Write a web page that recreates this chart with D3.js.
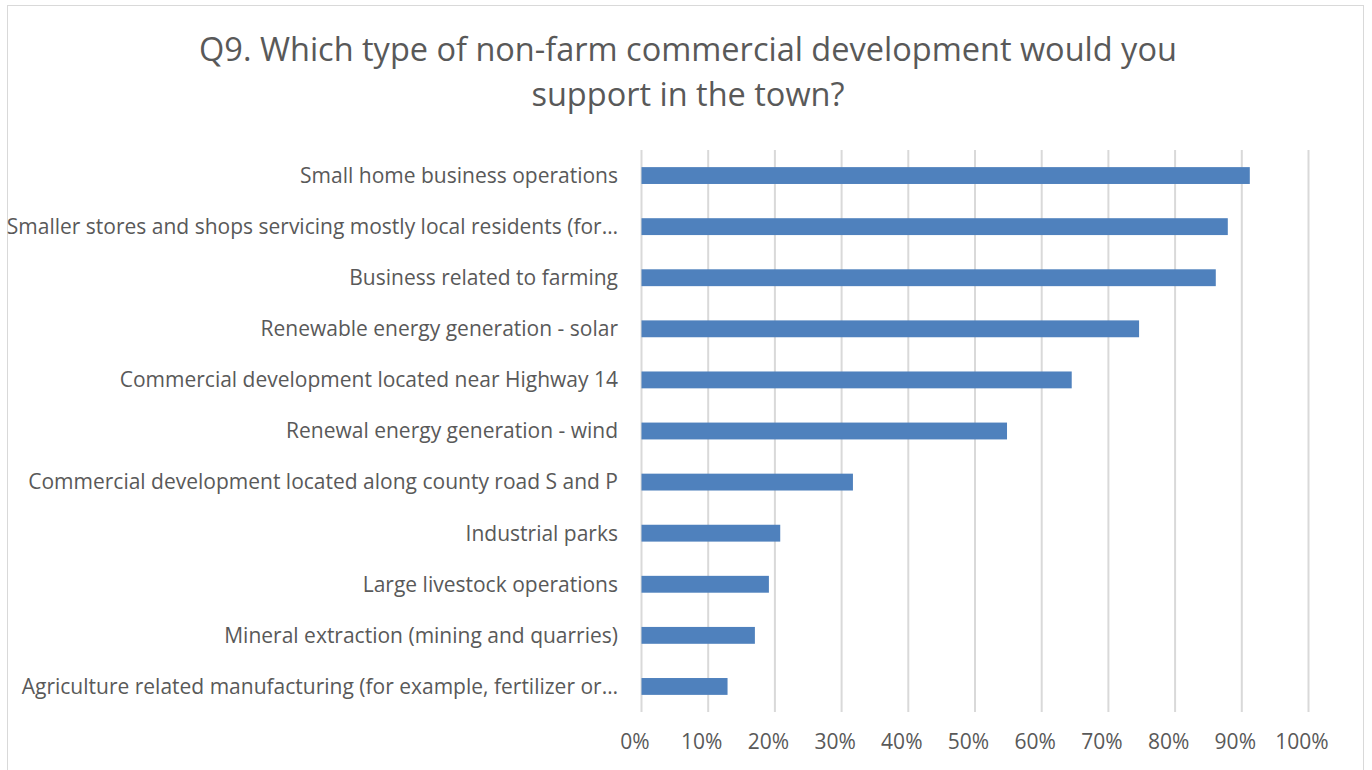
<!DOCTYPE html>
<html>
<head>
<meta charset="utf-8">
<script src="https://cdn.jsdelivr.net/npm/d3@7"></script>
<style>
  body { margin: 0; background: #fff; }
  text { font-family: "Open Sans", "Noto Sans", sans-serif; fill: #595959; }
</style>
</head>
<body>
<div id="chart"></div>
<script>
var categories = [
  "Small home business operations",
  "Smaller stores and shops servicing mostly local residents (for…",
  "Business related to farming",
  "Renewable energy generation - solar",
  "Commercial development located near Highway 14",
  "Renewal energy generation - wind",
  "Commercial development located along county road S and P",
  "Industrial parks",
  "Large livestock operations",
  "Mineral extraction (mining and quarries)",
  "Agriculture related manufacturing (for example, fertilizer or…"
];
var values = [0.912, 0.879, 0.861, 0.746, 0.645, 0.548, 0.317, 0.208, 0.191, 0.170, 0.129];
var tickValues = [0, 0.1, 0.2, 0.3, 0.4, 0.5, 0.6, 0.7, 0.8, 0.9, 1.0];
var titleLines = ["Q9. Which type of non-farm commercial development would you", "support in the town?"];

var width = 1372;
var height = 770;

var svg = d3.select("#chart")
  .append("svg")
  .attr("width", width)
  .attr("height", height);

//chart border
svg.append("rect")
  .attr("x", 7.5).attr("y", 5.5)
  .attr("width", 1356).attr("height", 770)
  .attr("fill", "#fff")
  .attr("stroke", "#d9d9d9");

//title
svg.append("g").selectAll("text")
  .data(titleLines)
  .enter().append("text")
  .attr("x", 688)
  .attr("y", function(d, i) { return 61 + i * 45; })
  .attr("text-anchor", "middle")
  .style("font-size", "32.5px")
  .text(function(d) { return d; });

var x = d3.scaleLinear().domain([0, 1]).range([641.5, 1308.5]);
var y = d3.scaleBand().domain(categories).range([150, 712]).paddingInner(0.67).paddingOuter(0.335);

//gridlines
svg.append("g").selectAll("line")
  .data(tickValues)
  .enter().append("line")
  .attr("x1", function(d) { return x(d); })
  .attr("x2", function(d) { return x(d); })
  .attr("y1", 150).attr("y2", 712)
  .attr("stroke", "#d9d9d9")
  .attr("stroke-width", 2);

//bars
svg.append("g").selectAll("rect")
  .data(values)
  .enter().append("rect")
  .attr("x", x(0))
  .attr("y", function(d, i) { return y(categories[i]); })
  .attr("width", function(d) { return x(d) - x(0); })
  .attr("height", y.bandwidth())
  .attr("fill", "#4f81bd");

//category labels
svg.append("g").selectAll("text")
  .data(categories)
  .enter().append("text")
  .attr("x", 618)
  .attr("y", function(d) { return y(d) + y.bandwidth() / 2; })
  .attr("dy", "0.35em")
  .attr("text-anchor", "end")
  .style("font-size", "21px")
  .text(function(d) { return d; });

//x axis labels
var xAxis = d3.axisBottom(x)
  .tickValues(tickValues)
  .tickFormat(d3.format(".0%"))
  .tickSize(0)
  .tickPadding(0);

var gx = svg.append("g")
  .attr("transform", "translate(-7," + 734 + ")")
  .call(xAxis);
gx.select(".domain").remove();
gx.selectAll("text")
  .style("font-size", "21px")
  .style("font-family", "'Open Sans', sans-serif")
  .attr("fill", "#595959");
</script>
</body>
</html>
